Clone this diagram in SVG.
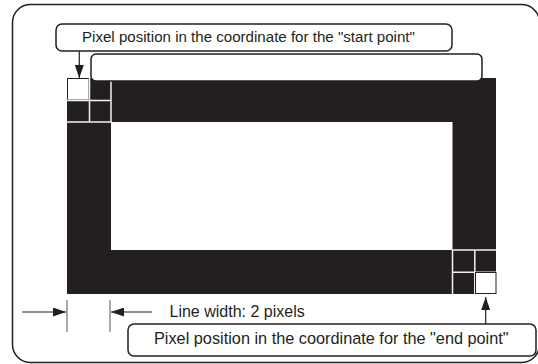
<svg xmlns="http://www.w3.org/2000/svg" width="538" height="364" viewBox="0 0 538 364">
<style>
.box{fill:#fff;stroke:#231f20;stroke-width:1.5}
.lbl{font-family:"Liberation Sans",Arial,sans-serif;fill:#231f20}
.grid{stroke:#f2f2f2;stroke-width:1.5;fill:none}
.cell{fill:#fff;stroke:#231f20;stroke-width:1}
.conn{stroke:#231f20;stroke-width:1.2;fill:none}
.tick{stroke:#555;stroke-width:1;fill:none}
</style>
<defs>
<marker id="ah" markerUnits="userSpaceOnUse" markerWidth="13" markerHeight="9" refX="13" refY="4.5" orient="auto">
<path d="M0,0 L13,4.5 L0,9 z" fill="#231f20"/>
</marker>
</defs>
<rect id="frame" x="12.5" y="4.5" width="527" height="358" rx="18" fill="#fff" stroke="#231f20" stroke-width="1.5"/>
<g id="line-rect">
<path d="M67,78 H496 V294 H67 Z M111,122 V250 H452.5 V122 Z" fill="#231f20" fill-rule="evenodd"/>
</g>
<g id="start-grid">
<rect class="cell" x="67.5" y="78.5" width="21.5" height="21.5"/>
<path class="grid" d="M89.5,78 V122 M111,78 V122 M67,100.5 H111 M67,122 H111"/>
</g>
<g id="end-grid">
<path class="grid" d="M452.5,250 V294 M474.8,250 V294 M452.5,250 H496 M452.5,272.2 H496"/>
<rect class="cell" x="475.5" y="272.5" width="20.5" height="21"/>
</g>
<g id="empty-bar">
<rect class="box" x="91" y="54" width="391" height="27" rx="5"/>
</g>
<g id="start-label">
<rect class="box" x="56" y="24" width="396" height="27" rx="6"/>
<text class="lbl" x="82" y="42" font-size="15.1">Pixel position in the coordinate for the "start point"</text>
</g>
<g id="end-label">
<rect class="box" x="128" y="324" width="408" height="32" rx="6"/>
<text class="lbl" x="154" y="344" font-size="16.3">Pixel position in the coordinate for the "end point"</text>
</g>
<g id="width-label">
<text class="lbl" x="169.5" y="316.5" font-size="16">Line width: 2 pixels</text>
</g>
<g id="connectors">
<line class="conn" x1="79.3" y1="51" x2="79.3" y2="78" marker-end="url(#ah)"/>
<line class="conn" x1="485.7" y1="324" x2="485.7" y2="297" marker-end="url(#ah)"/>
<line class="conn" x1="22" y1="312" x2="66" y2="312" marker-end="url(#ah)"/>
<line class="conn" x1="152" y1="312" x2="111" y2="312" marker-end="url(#ah)"/>
<line class="tick" x1="67" y1="300" x2="67" y2="332"/>
<line class="tick" x1="110" y1="300" x2="110" y2="332"/>
</g>
</svg>
